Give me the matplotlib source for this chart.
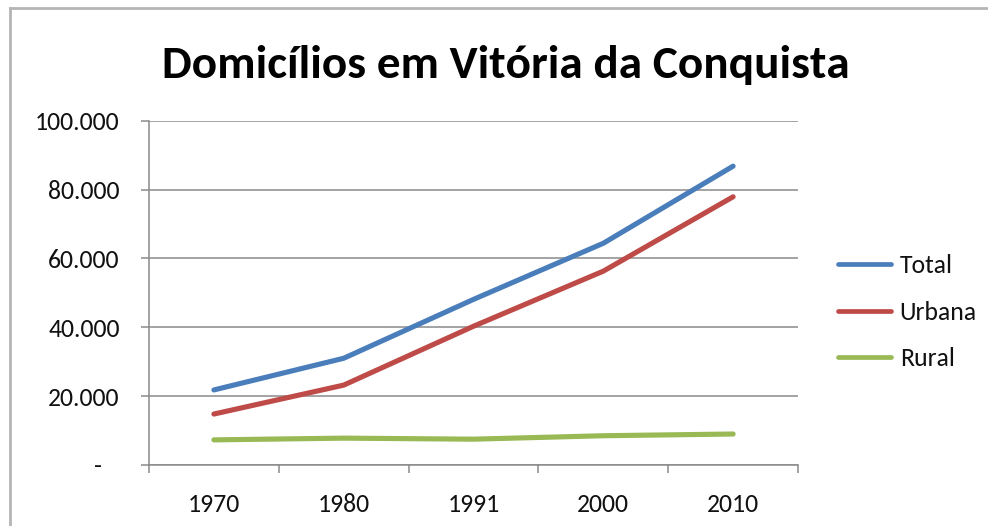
import matplotlib
matplotlib.use("Agg")
import matplotlib.pyplot as plt
from matplotlib.lines import Line2D
from matplotlib.ticker import FixedLocator, FuncFormatter

years = ["1970", "1980", "1991", "2000", "2010"]
total = [21800, 31000, 48100, 64400, 86800]
urbana = [14800, 23200, 40300, 56300, 77900]
rural = [7300, 7800, 7500, 8500, 9000]
series_names = ["Total", "Urbana", "Rural"]
y_ticks = [0, 20000, 40000, 60000, 80000, 100000]
title = "Domicílios em Vitória da Conquista"

FONT = ["Carlito", "Lato", "DejaVu Sans"]
plt.rcParams["font.family"] = FONT

W, H = 988, 526
fig = plt.figure(figsize=(W / 100, H / 100), dpi=100)
fig.patch.set_facecolor("white")

def fx(px):
    return px / W

def fy(py):
    return 1 - py / H

left, right, top, bottom = 149, 798, 120.7, 465
ax = fig.add_axes([fx(left), fy(bottom), fx(right - left), (bottom - top) / H])

colors = ["#4A7EBB", "#BE4B48", "#98B954"]
xs = list(range(len(years)))
for vals, c, name in zip([total, urbana, rural], colors, series_names):
    ax.plot(xs, vals, color=c, lw=3.7, solid_capstyle="round",
            solid_joinstyle="round", label=name, zorder=3)

ax.set_xlim(-0.5, len(years) - 0.5)
ax.set_ylim(0, 100000)

grid_c = "#8a8a8a"
txt_c = "#111111"
fs = 18.5
ax.yaxis.set_major_locator(FixedLocator(y_ticks))
ax.yaxis.set_major_formatter(FuncFormatter(
    lambda v, p: "-   " if v == 0 else f"{int(v):,}".replace(",", ".")))
ax.set_xticks(xs)
ax.set_xticklabels(years)
ax.set_xticks([i - 0.5 for i in range(len(years) + 1)], minor=True)

ax.tick_params(axis="y", which="major", length=6, width=1.1, color=grid_c,
               labelsize=fs, labelcolor=txt_c, pad=15)
ax.tick_params(axis="x", which="major", length=0, labelsize=fs,
               labelcolor=txt_c, pad=20.5)
ax.tick_params(axis="x", which="minor", length=6, width=1.1, color=grid_c)

ax.grid(axis="y", color=grid_c, lw=1.1)
ax.set_axisbelow(True)
for s in ["top", "right"]:
    ax.spines[s].set_visible(False)
for s in ["left", "bottom"]:
    ax.spines[s].set_color(grid_c)
    ax.spines[s].set_linewidth(1.1)

fig.text(fx(506), fy(78), title, ha="center", va="baseline",
         fontsize=34, fontweight="bold", color="black")

handles = [Line2D([], [], color=c, lw=3.4, solid_capstyle="round") for c in colors]
fig.legend(handles, series_names, loc="center left",
           bbox_to_anchor=(fx(838), fy(312)), frameon=False,
           fontsize=fs, handlelength=2.05, handletextpad=0.35,
           labelspacing=0.9, borderpad=0, borderaxespad=0,
           labelcolor=txt_c)

border_c = "#b5b5b5"
fig.add_artist(Line2D([fx(9.5), fx(9.5)], [fy(8), 0], color=border_c, lw=2,
                      transform=fig.transFigure))
fig.add_artist(Line2D([fx(9.5), 1], [fy(8), fy(8)], color=border_c, lw=2,
                      transform=fig.transFigure))

fig.savefig("out.png", dpi=100, facecolor="white")
